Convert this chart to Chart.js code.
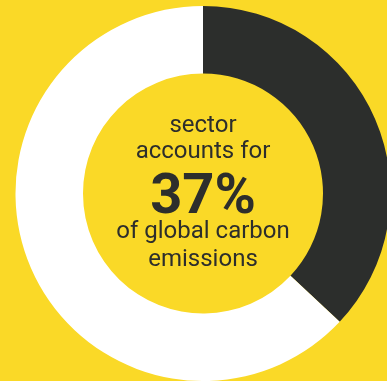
<!DOCTYPE html>
<html>
<head>
<meta charset="utf-8">
<script src="https://cdn.jsdelivr.net/npm/chart.js"></script>
<style>
  html, body {
    margin: 0;
    padding: 0;
    width: 387px;
    height: 381px;
    overflow: hidden;
    background: #fad927;
  }
  .wrap {
    position: absolute;
    left: 0;
    top: 0;
    width: 406px;
    height: 381px;
  }
</style>
</head>
<body>
<div class="wrap"><canvas id="share"></canvas></div>
<script>
const categories = ["Sector", "Everything else"];
const shares = [37, 63];
const sliceColors = ["#2c2e2c", "#ffffff"];
const headLines = ["sector", "accounts for"];
const tailLines = ["of global carbon", "emissions"];

// writes the caption in the hole, the big number taken from the first slice
const centerCaption = {
  id: "centerCaption",
  afterDraw(chart) {
    const { ctx } = chart;
    const arc = chart.getDatasetMeta(0).data[0];
    const cx = arc.x;
    const cy = arc.y;
    const pct = chart.data.datasets[0].data[0];
    ctx.save();
    ctx.fillStyle = "#2d2e2c";
    ctx.textAlign = "center";
    ctx.textBaseline = "alphabetic";
    ctx.font = "400 24px Roboto";
    ctx.fillText(headLines[0], cx, cy - 62);
    ctx.fillText(headLines[1], cx, cy - 36);
    ctx.font = "700 56px Roboto";
    ctx.fillText(pct + "%", cx, cy + 19);
    ctx.font = "400 24px Roboto";
    ctx.fillText(tailLines[0], cx, cy + 44);
    ctx.fillText(tailLines[1], cx, cy + 72);
    ctx.restore();
  },
};

new Chart(document.getElementById("share"), {
  type: "doughnut",
  data: {
    labels: categories,
    datasets: [
      {
        data: shares,
        backgroundColor: sliceColors,
        borderWidth: 0,
      },
    ],
  },
  options: {
    responsive: true,
    maintainAspectRatio: false,
    animation: false,
    cutout: "64%",
    layout: { padding: { top: 6 } },
    plugins: {
      legend: { display: false },
      tooltip: { enabled: false },
    },
  },
  plugins: [centerCaption],
});
</script>
</body>
</html>
